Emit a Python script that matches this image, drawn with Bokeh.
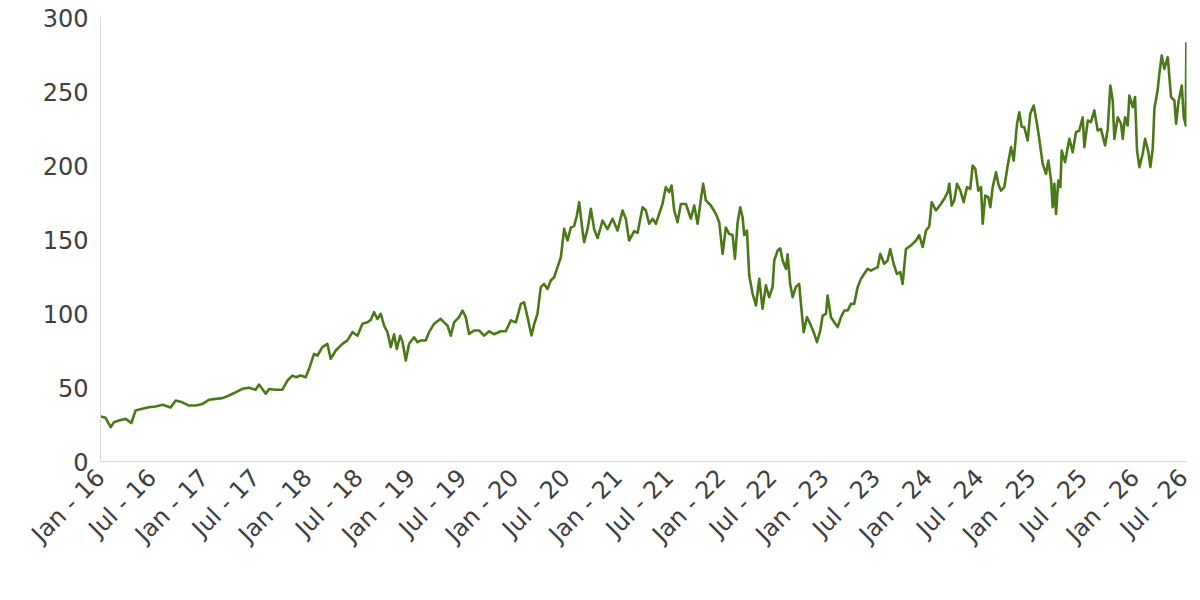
import math
import pandas as pd
from datetime import datetime
from bokeh.plotting import figure
from bokeh.models import Range1d, MonthsTicker, DatetimeTickFormatter, FixedTicker, ColumnDataSource
from bokeh.embed import file_html
from bokeh.resources import INLINE

# Dates as decimal years, and prices
dec_years = [
    2016.000, 2016.048, 2016.097, 2016.129, 2016.177, 2016.242, 2016.297, 2016.338, 2016.403, 2016.467,
    2016.532, 2016.597, 2016.677, 2016.725, 2016.790, 2016.854, 2016.919, 2016.984,
    2017.047, 2017.112, 2017.177, 2017.241, 2017.306, 2017.370, 2017.434, 2017.499, 2017.531, 2017.596,
    2017.628, 2017.692, 2017.757, 2017.806, 2017.854, 2017.886, 2017.934, 2017.983,
    2018.015, 2018.063, 2018.096, 2018.144, 2018.192, 2018.224, 2018.273, 2018.337, 2018.386, 2018.434,
    2018.483, 2018.531, 2018.579, 2018.611, 2018.643, 2018.676, 2018.708, 2018.740, 2018.773, 2018.805,
    2018.837, 2018.863, 2018.895, 2018.918, 2018.950, 2018.982,
    2019.030, 2019.063, 2019.095, 2019.143, 2019.175, 2019.223, 2019.288, 2019.320, 2019.353, 2019.385,
    2019.417, 2019.465, 2019.498, 2019.530, 2019.562, 2019.610, 2019.659, 2019.707, 2019.755, 2019.804,
    2019.868, 2019.917, 2019.965,
    2020.014, 2020.045, 2020.062, 2020.094, 2020.127, 2020.165, 2020.191, 2020.223, 2020.255, 2020.287,
    2020.320, 2020.352, 2020.384, 2020.417, 2020.449, 2020.481, 2020.514, 2020.545, 2020.577, 2020.604,
    2020.626, 2020.659, 2020.674, 2020.707, 2020.739, 2020.771, 2020.804, 2020.852, 2020.900, 2020.949,
    2020.997,
    2021.045, 2021.077, 2021.109, 2021.158, 2021.191, 2021.239, 2021.271, 2021.303, 2021.336, 2021.368,
    2021.399, 2021.432, 2021.464, 2021.496, 2021.519, 2021.545, 2021.577, 2021.609, 2021.658, 2021.706,
    2021.738, 2021.771, 2021.803, 2021.825, 2021.851, 2021.899, 2021.948, 2021.980,
    2022.013, 2022.044, 2022.076, 2022.109, 2022.132, 2022.158, 2022.183, 2022.206, 2022.222, 2022.248,
    2022.270, 2022.303, 2022.335, 2022.367, 2022.399, 2022.431, 2022.463, 2022.496, 2022.512, 2022.545,
    2022.570, 2022.593, 2022.625, 2022.641, 2022.666, 2022.690, 2022.721, 2022.753, 2022.770, 2022.796,
    2022.828, 2022.860, 2022.893, 2022.925, 2022.957, 2022.980,
    2023.012, 2023.028, 2023.060, 2023.092, 2023.125, 2023.157, 2023.189, 2023.222, 2023.253, 2023.285,
    2023.318, 2023.350, 2023.382, 2023.415, 2023.447, 2023.479, 2023.512, 2023.537, 2023.575, 2023.608,
    2023.633, 2023.666, 2023.698, 2023.730, 2023.753, 2023.785, 2023.834, 2023.882, 2023.914, 2023.947,
    2023.979,
    2024.011, 2024.034, 2024.075, 2024.124, 2024.156, 2024.189, 2024.204, 2024.227, 2024.252, 2024.279,
    2024.311, 2024.343, 2024.375, 2024.407, 2024.430, 2024.456, 2024.485, 2024.511, 2024.527, 2024.552,
    2024.581, 2024.601, 2024.624, 2024.656, 2024.678, 2024.704, 2024.736, 2024.769, 2024.801, 2024.827,
    2024.859, 2024.881, 2024.904, 2024.929, 2024.962, 2024.987,
    2025.020, 2025.052, 2025.074, 2025.107, 2025.139, 2025.162, 2025.188, 2025.204, 2025.220, 2025.236,
    2025.258, 2025.278, 2025.291, 2025.323, 2025.365, 2025.397, 2025.429, 2025.461, 2025.494, 2025.510,
    2025.543, 2025.574, 2025.606, 2025.639, 2025.671, 2025.710, 2025.736, 2025.761, 2025.784, 2025.800,
    2025.833, 2025.865, 2025.881, 2025.903, 2025.929, 2025.945, 2025.978,
    2026.000, 2026.019, 2026.042, 2026.074, 2026.097, 2026.129, 2026.148, 2026.171, 2026.187, 2026.220,
    2026.235, 2026.258, 2026.283, 2026.316, 2026.348, 2026.380, 2026.397, 2026.419, 2026.452, 2026.471,
    2026.490, 2026.496,
]

prices = [
    30.4, 29.5, 23.2, 26.6, 27.7, 28.8, 26.0, 34.5, 35.6, 36.7,
    37.2, 38.3, 36.5, 41.2, 40.0, 37.8, 37.8, 38.9,
    41.7, 42.3, 42.8, 44.6, 46.8, 49.1, 49.8, 48.5, 52.0, 45.8,
    49.0, 48.5, 48.5, 54.7, 58.0, 57.0, 58.1, 57.0,
    62.6, 72.7, 71.6, 77.3, 79.5, 69.4, 75.0, 79.5, 81.8, 87.4,
    85.0, 93.0, 94.1, 95.7, 100.9, 96.3, 99.8, 91.9, 87.4, 77.3,
    86.0, 76.0, 85.0, 81.0, 68.2, 79.5,
    84.0, 80.6, 81.8, 81.8, 87.4, 93.0, 96.4, 94.0, 91.9, 85.0,
    94.0, 97.5, 102.0, 97.5, 86.2, 88.5, 88.5, 85.0, 88.0, 86.0,
    88.0, 88.0, 95.3,
    94.0, 102.0, 106.5, 107.6, 97.5, 85.1, 92.8, 99.8, 117.8, 120.0,
    116.6, 122.3, 124.5, 131.3, 138.0, 157.2, 149.3, 158.0, 159.0, 166.2,
    175.2, 155.6, 148.2, 157.0, 170.7, 157.0, 151.0, 162.8, 157.0, 164.0,
    156.0,
    169.6, 164.0, 149.3, 155.6, 154.5, 171.8, 169.6, 160.6, 164.0, 160.6,
    167.3, 174.1, 185.4, 182.0, 186.5, 169.6, 161.7, 174.0, 174.0, 164.0,
    173.0, 160.6, 177.5, 187.6, 176.4, 173.0, 167.3, 161.7,
    140.3, 158.0, 153.8, 153.0, 137.0, 161.7, 171.8, 165.0, 153.0, 156.0,
    125.7, 113.3, 105.4, 123.4, 103.2, 119.0, 111.0, 118.0, 135.8, 142.6,
    144.0, 135.8, 130.2, 140.0, 120.0, 111.0, 118.0, 120.0, 106.5, 87.4,
    97.5, 93.0, 87.4, 80.6, 88.5, 98.6,
    99.8, 112.2, 97.5, 94.1, 90.8, 97.5, 102.0, 102.0, 106.5, 106.5,
    117.8, 123.4, 126.8, 130.2, 129.0, 130.2, 131.3, 140.3, 133.6, 135.8,
    143.6, 133.6, 126.8, 128.0, 120.0, 143.6, 146.0, 149.3, 153.0, 145.0,
    156.0,
    159.0, 175.2, 169.6, 174.1, 177.5, 182.0, 187.6, 172.9, 176.4, 187.6,
    183.0, 175.2, 185.4, 184.2, 200.0, 197.7, 183.0, 185.4, 160.6, 179.7,
    178.6, 171.8, 185.4, 195.5, 187.6, 183.0, 185.4, 200.0, 212.4, 203.3,
    228.2, 236.0, 226.0, 226.0, 216.9, 234.9,
    240.5, 228.2, 218.0, 201.1, 194.4, 203.3, 189.9, 171.8, 187.6, 167.3,
    189.9, 185.4, 210.1, 202.2, 218.0, 209.0, 222.5, 223.6, 232.6, 212.4,
    230.4, 229.3, 237.2, 223.6, 224.7, 213.5, 224.7, 254.0, 244.0, 218.0,
    232.6, 228.2, 218.0, 232.6, 227.0, 247.3, 239.4,
    246.2, 210.1, 198.9, 207.9, 218.0, 209.0, 198.9, 211.3, 238.3, 251.8,
    262.0, 274.3, 265.3, 273.2, 246.2, 243.9, 228.2, 242.8, 254.0, 232.6,
    227.0, 283.3,
]

y_ticks = [0, 50, 100, 150, 200, 250, 300]

base = pd.Timestamp("2016-01-01")
dates = [base + pd.to_timedelta((d - 2016.0) * 365.25, unit="D") for d in dec_years]
src = ColumnDataSource(data=dict(date=dates, price=prices))

p = figure(
    width=1193, height=592,
    x_axis_type="datetime",
    x_range=Range1d(datetime(2015, 12, 31, 12), datetime(2026, 7, 1, 4)),
    y_range=Range1d(0, 300),
    output_backend="svg", toolbar_location=None,
    min_border_left=100, min_border_right=7, min_border_top=17, min_border_bottom=131,
)
p.outline_line_color = None
p.xgrid.visible = False
p.ygrid.visible = False
p.background_fill_color = "white"
p.border_fill_color = "white"

p.line("date", "price", source=src, line_color="#4a7a17", line_width=2.6, line_join="round")

font = "DejaVu Sans"
txt_color = "#404040"

p.yaxis.ticker = FixedTicker(ticks=y_ticks)
p.yaxis.axis_line_color = "#d9d9d9"
p.yaxis.major_tick_line_color = None
p.yaxis.minor_tick_line_color = None
p.yaxis.major_tick_out = 0
p.yaxis.major_label_standoff = 12
p.yaxis.major_label_text_font = font
p.yaxis.major_label_text_font_size = "24px"
p.yaxis.major_label_text_color = txt_color

p.xaxis.ticker = MonthsTicker(months=[0, 6])
fmt = "%b - %y"
p.xaxis.formatter = DatetimeTickFormatter(
    years=fmt, months=fmt, days=fmt, hours=fmt, minutes=fmt, seconds=fmt,
    milliseconds=fmt, microseconds=fmt, hourmin=fmt, minsec=fmt,
)
p.xaxis.axis_line_color = "#d9d9d9"
p.xaxis.major_tick_line_color = None
p.xaxis.minor_tick_line_color = None
p.xaxis.major_tick_out = 0
p.xaxis.major_label_standoff = 12
p.xaxis.major_label_orientation = math.pi / 4
p.xaxis.major_label_text_font = font
p.xaxis.major_label_text_font_size = "24px"
p.xaxis.major_label_text_color = txt_color

open("out.html", "w").write(file_html(p, INLINE))
